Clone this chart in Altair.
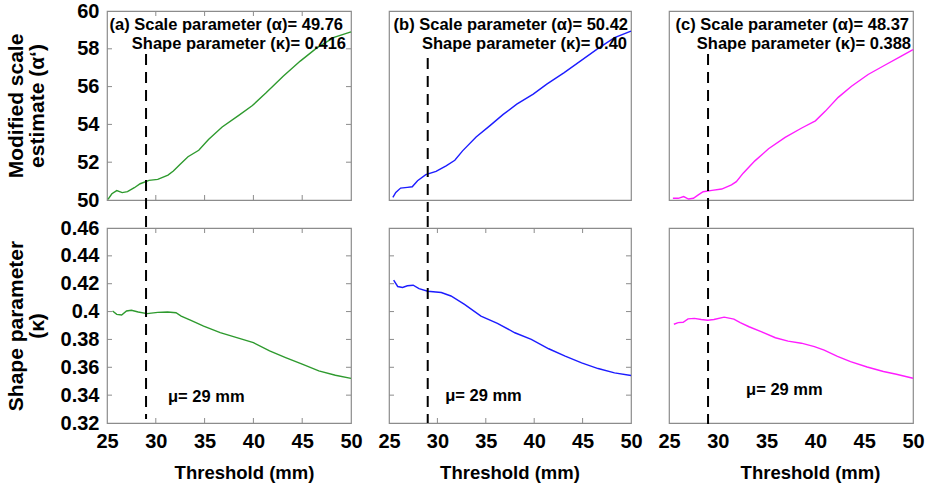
import altair as alt
import pandas as pd

FONT = "Liberation Sans"

# ---------------- data ----------------
x_label = "Threshold (mm)"
y_top_title = ["Modified scale", "estimate (α‘)"]
y_bot_title = ["Shape parameter", "(κ)"]
x_ticks = [25, 30, 35, 40, 45, 50]
top_ticks = [50, 52, 54, 56, 58, 60]
bot_ticks = [0.32, 0.34, 0.36, 0.38, 0.40, 0.42, 0.44, 0.46]
inner_x_ticks = [30, 35, 40, 45]
inner_top_ticks = [52, 54, 56, 58]
inner_bot_ticks = [0.34, 0.36, 0.38, 0.40, 0.42, 0.44]
mu_value = 29
mu_label = "μ= 29 mm"

ann_line1 = ["(a) Scale parameter (α)= 49.76",
             "(b) Scale parameter (α)= 50.42",
             "(c) Scale parameter (α)= 48.37"]
ann_line2 = ["Shape parameter (κ)= 0.416",
             "Shape parameter (κ)= 0.40",
             "Shape parameter (κ)= 0.388"]

colors = ["#2e9a2e", "#1c1cff", "#ff1cff"]

# (a) modified scale estimate
xa_top = [25.1, 25.5, 26.0, 26.56, 27.1, 27.8, 28.4, 29.3, 30.2, 31.25, 31.8, 32.5,
          33.3, 34.4, 35.4, 36.8, 38.5, 39.9, 41.3, 43.05, 44.8, 46.5, 48.26, 50.0]
ya_top = [50.03, 50.33, 50.5, 50.39, 50.44, 50.65, 50.86, 51.04, 51.09, 51.32, 51.53, 51.89,
          52.29, 52.63, 53.2, 53.86, 54.48, 55.0, 55.67, 56.55, 57.35, 58.05, 58.6, 58.9]
# (b)
xb_top = [25.4, 25.7, 26.2, 26.9, 27.4, 27.95, 28.8, 29.86, 30.9, 31.8, 32.6,
          34.0, 35.4, 36.8, 38.2, 39.9, 41.3, 43.1, 44.8, 46.5, 48.3, 50.0]
yb_top = [50.14, 50.4, 50.63, 50.67, 50.7, 51.02, 51.34, 51.51, 51.81, 52.1, 52.6,
          53.33, 53.92, 54.53, 55.07, 55.6, 56.13, 56.74, 57.36, 57.98, 58.59, 58.94]
# (c)
xc_top = [25.4, 25.95, 26.5, 27.0, 27.5, 28.0, 28.5, 29.4, 30.4, 31.4, 31.9, 32.6,
          33.8, 35.2, 36.9, 38.6, 40.0, 41.0, 42.34, 43.7, 45.4, 47.1, 48.8, 50.0]
yc_top = [50.09, 50.09, 50.18, 50.05, 50.09, 50.27, 50.44, 50.51, 50.58, 50.8, 50.97, 51.42,
          52.07, 52.71, 53.31, 53.81, 54.19, 54.69, 55.43, 56.02, 56.64, 57.13, 57.61, 57.96]

# shape parameter
xa_bot = [25.57, 26.0, 26.5, 27.0, 27.5, 28.2, 29.1, 30.2, 31.2, 32.07, 32.6,
          33.6, 34.9, 36.6, 38.3, 40.0, 41.66, 43.3, 45.0, 46.7, 48.4, 50.0]
ya_bot = [0.4004, 0.398, 0.3975, 0.4004, 0.4009, 0.3997, 0.3985, 0.3994, 0.3997, 0.3992, 0.3968,
          0.3937, 0.3896, 0.3849, 0.3813, 0.3777, 0.3718, 0.367, 0.3622, 0.3574, 0.3543, 0.352]
xb_bot = [25.48, 25.9, 26.4, 26.9, 27.5, 28.1, 29.0, 30.4, 31.4, 32.8,
          34.5, 36.2, 38.0, 39.7, 41.5, 43.2, 44.9, 46.6, 48.3, 50.0]
yb_bot = [0.4225, 0.418, 0.4173, 0.4185, 0.4189, 0.4165, 0.4146, 0.4137, 0.4112, 0.4052,
          0.3968, 0.3916, 0.3848, 0.38, 0.3733, 0.368, 0.3632, 0.3591, 0.356, 0.3541]
xc_bot = [25.5, 25.94, 26.45, 26.95, 27.6, 28.3, 28.97, 29.6, 30.65, 31.65, 32.3, 33.2,
          34.5, 35.9, 37.2, 38.56, 39.9, 40.9, 42.26, 43.6, 45.3, 46.97, 48.3, 50.0]
yc_bot = [0.3909, 0.3921, 0.3923, 0.3948, 0.3951, 0.3943, 0.3938, 0.3943, 0.396, 0.3946, 0.3921, 0.3891,
          0.3854, 0.3812, 0.3788, 0.3773, 0.3748, 0.3723, 0.3679, 0.364, 0.3602, 0.357, 0.355, 0.3521]

# ---------------- layout ----------------
W = [244, 242, 244]
H_TOP, H_BOT = 189, 195
TICK_C = "#8c8c8c"

xs = alt.Scale(domain=[25, 50], nice=False, zero=False)
ys_top = alt.Scale(domain=[50, 60], nice=False, zero=False)
ys_bot = alt.Scale(domain=[0.32, 0.46], nice=False, zero=False)


def panel(xv, yv, color, col, top, ticks):
    w = W[col]
    h = H_TOP if top else H_BOT
    ys = ys_top if top else ys_bot
    if col == 0:
        if top:
            yax = alt.Axis(values=top_ticks, title=y_top_title, format="d")
        else:
            yax = alt.Axis(values=bot_ticks, title=y_bot_title, format=".2~f")
    else:
        yax = None
    xax = None if top else alt.Axis(values=x_ticks, title=x_label,
                                    titleX=[137, 120.5, 141][col])

    df = pd.DataFrame({"x": xv, "y": yv})
    layers = [
        alt.Chart(df).mark_line(color=color, strokeWidth=1.4).encode(
            x=alt.X("x:Q", scale=xs, axis=xax),
            y=alt.Y("y:Q", scale=ys, axis=yax),
        )
    ]

    if ticks:
        tx = pd.DataFrame({"v": inner_x_ticks})
        ty = pd.DataFrame({"v": inner_top_ticks if top else inner_bot_ticks})
        for (a, b) in [(h, h - 5), (0, 5)]:
            layers.append(alt.Chart(tx).mark_rule(color=TICK_C, strokeWidth=1).encode(
                x=alt.X("v:Q", scale=xs, axis=xax), y=alt.value(a), y2=alt.value(b)))
        for (a, b) in [(0, 5), (w, w - 5)]:
            layers.append(alt.Chart(ty).mark_rule(color=TICK_C, strokeWidth=1).encode(
                y=alt.Y("v:Q", scale=ys, axis=yax), x=alt.value(a), x2=alt.value(b)))

    mdf = pd.DataFrame({"m": [mu_value]})
    if top:
        y0, y1 = [43, 47, 43][col], h + 12
    else:
        y0, y1 = -12, [191, 195, 196][col]
    layers.append(alt.Chart(mdf).mark_rule(color="black", strokeWidth=2,
                                           strokeDash=[11, 7]).encode(
        x=alt.X("m:Q", scale=xs, axis=xax), y=alt.value(y0), y2=alt.value(y1)))

    if top:
        r1 = [236, 239, 240][col]
        r2 = [239, 238, 242][col]
        for txt, xr, yy in [(ann_line1[col], r1, 14), (ann_line2[col], r2, 33)]:
            layers.append(alt.Chart(pd.DataFrame({"t": [txt]})).mark_text(
                align="right", baseline="middle", fontSize=16.5, fontWeight="bold",
                font=FONT, color="black").encode(
                text="t:N", x=alt.value(xr), y=alt.value(yy)))
    else:
        mx = [31.25, 30.8, 32.9][col]
        my = [0.3387, 0.3394, 0.3437][col]
        layers.append(alt.Chart(pd.DataFrame({"x": [mx], "y": [my], "t": [mu_label]})).mark_text(
            align="left", baseline="middle", fontSize=16.5, fontWeight="bold",
            font=FONT, color="black").encode(
            x=alt.X("x:Q", scale=xs, axis=xax),
            y=alt.Y("y:Q", scale=ys, axis=yax),
            text="t:N"))

    return alt.layer(*layers).properties(width=w, height=h)


panels = [
    panel(xa_top, ya_top, colors[0], 0, True, True),
    panel(xb_top, yb_top, colors[1], 1, True, False),
    panel(xc_top, yc_top, colors[2], 2, True, False),
    panel(xa_bot, ya_bot, colors[0], 0, False, True),
    panel(xb_bot, yb_bot, colors[1], 1, False, True),
    panel(xc_bot, yc_bot, colors[2], 2, False, False),
]

chart = alt.concat(*panels, columns=3, spacing={"row": 0, "column": 14}, align="each").properties(
    padding={"left": 4, "top": 0, "right": 5, "bottom": 0},
    background="white",
).configure(font=FONT).configure_axis(
    grid=False, domain=False, ticks=False,
    labelFontSize=20, labelFontWeight="bold", labelColor="black", labelFont=FONT,
    labelFlush=False, labelOverlap=False,
    titleFontSize=19, titleFontWeight="bold", titleColor="black", titleFont=FONT,
).configure_axisY(
    labelPadding=8, titleX=-81, titleLineHeight=21, titleFontSize=21,
).configure_axisX(
    labelPadding=8, titleY=40, titleFontSize=18.5,
).configure_view(stroke="#8c8c8c", strokeWidth=1.2)

chart.save("out.html", embed_options={"renderer": "svg", "actions": False})
